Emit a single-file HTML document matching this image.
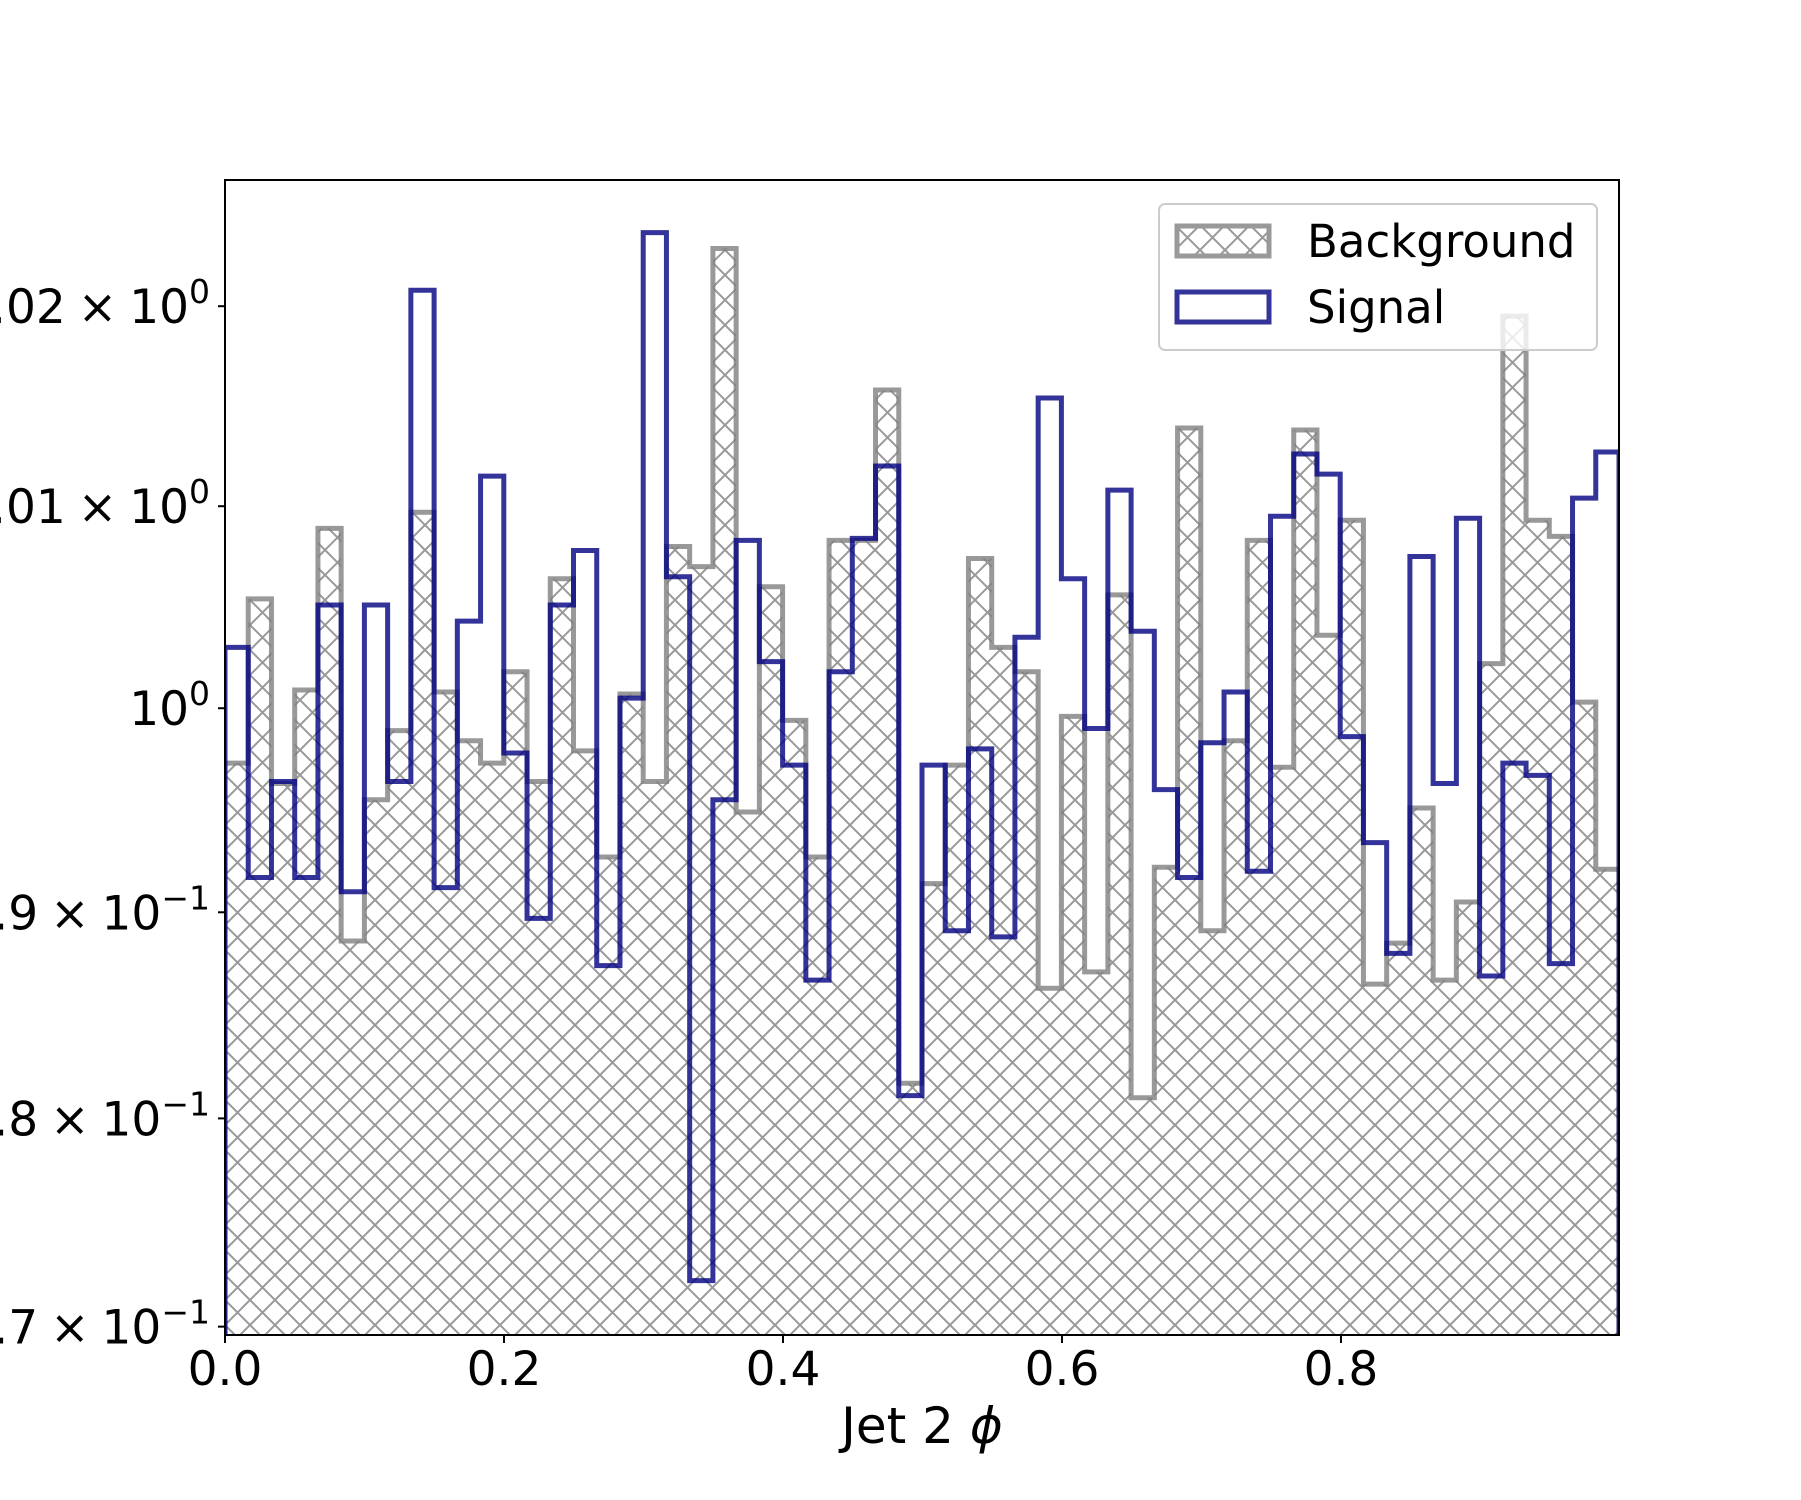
<!DOCTYPE html>
<html><head><meta charset="utf-8"><style>
html,body{margin:0;padding:0;background:#fff;}
svg{display:block;font-family:"DejaVu Sans","Liberation Sans",sans-serif;}
</style></head><body>
<svg id="chart" width="1801" height="1500" viewBox="0 0 1801 1500" xmlns="http://www.w3.org/2000/svg">
<defs>
<pattern id="hatch" patternUnits="userSpaceOnUse" width="25" height="25">
<path d="M0,0 L25,25 M0,25 L25,0 M-5,5 L5,-5 M20,30 L30,20" stroke="#999999" stroke-width="2" fill="none"/>
</pattern>
<clipPath id="plotclip"><rect x="225" y="180" width="1394" height="1155"/></clipPath>
</defs>
<g id="plot" clip-path="url(#plotclip)"></g>
<g id="axes"></g>
</svg>
<script>
const background = [0.9973,1.0054,0.9963,1.0009,1.0089,0.9886,0.9955,0.9989,1.0097,1.0008,
0.9984,0.9973,1.0018,0.9964,1.0064,0.9979,0.9927,1.0007,0.9964,1.0080,
1.0070,1.0229,0.9949,1.0060,0.9994,0.9927,1.0083,1.0083,1.0158,0.9817,
0.9914,0.9972,1.0074,1.0030,1.0018,0.9863,0.9996,0.9871,1.0056,0.9810,
0.9922,1.0139,0.9891,0.9984,1.0083,0.9971,1.0138,1.0036,1.0093,0.9865,
0.9885,0.9951,0.9867,0.9905,1.0022,1.0195,1.0093,1.0085,1.0003,0.9921];
const signal = [1.0030,0.9917,0.9964,0.9917,1.0051,0.9910,1.0051,0.9964,1.0208,0.9912,
1.0043,1.0115,0.9978,0.9897,1.0051,1.0078,0.9874,1.0005,1.0237,1.0065,
0.9722,0.9955,1.0083,1.0023,0.9972,0.9867,1.0018,1.0084,1.0120,0.9811,
0.9972,0.9891,0.9980,0.9888,1.0035,1.0154,1.0064,0.9990,1.0108,1.0038,
0.9960,0.9917,0.9983,1.0008,0.9920,1.0095,1.0126,1.0116,0.9986,0.9934,
0.9880,1.0075,0.9963,1.0094,0.9869,0.9973,0.9967,0.9875,1.0104,1.0127];
const xTicks = [0.0,0.2,0.4,0.6,0.8];
const xTickLabels = ["0.0","0.2","0.4","0.6","0.8"];
const yTicks = [0.97,0.98,0.99,1.00,1.01,1.02];
const yTickMant = ["9.7","9.8","9.9","","1.01","1.02"];
const yTickExp = ["\u22121","\u22121","\u22121","0","0","0"];
const xMin = 0, xMax = 0.9993;

const L=225,R=1619,T=180,B=1335;
const yMinV=0.9696, yMaxV=1.02636;
function xs(v){return L+(v-xMin)/(xMax-xMin)*(R-L);}
function ys(v){return B-(Math.log(v)-Math.log(yMinV))/(Math.log(yMaxV)-Math.log(yMinV))*(B-T);}
const NS="http://www.w3.org/2000/svg";
function mk(tag,attrs,parent){const e=document.createElementNS(NS,tag);for(const k in attrs)e.setAttribute(k,attrs[k]);parent.appendChild(e);return e;}
const plot=document.getElementById('plot'), axes=document.getElementById('axes');
function stepPath(vals){
  const n=vals.length, w=(xMax-xMin)/n, base=B+50;
  let d='M'+xs(xMin)+','+base;
  for(let i=0;i<n;i++){const y=ys(vals[i]);d+=' L'+xs(xMin+i*w)+','+y+' L'+xs(xMin+(i+1)*w)+','+y;}
  d+=' L'+xs(xMax)+','+base;
  return d;
}
const bgFill=mk('path',{d:stepPath(background)+' Z',fill:'url(#hatch)',stroke:'none'},plot);


const bgLine=mk('path',{d:stepPath(background),fill:'none',stroke:'#808080','stroke-opacity':0.8,'stroke-width':5,'stroke-linejoin':'miter'},plot);


const sgLine=mk('path',{d:stepPath(signal),fill:'none',stroke:'#000080','stroke-opacity':0.8,'stroke-width':5,'stroke-linejoin':'miter'},plot);



const frame=mk('rect',{x:L,y:T,width:R-L,height:B-T,fill:'none',stroke:'#000','stroke-width':2},axes);


xTicks.forEach((v,i)=>{
  const x=xs(v);
  const t=mk('line',{x1:x,y1:B,x2:x,y2:B+8,stroke:'#000','stroke-width':2},axes);
  
  
  const tx=mk('text',{x:x,y:1385,'font-size':47,'text-anchor':'middle',fill:'#000'},axes);
  tx.textContent=xTickLabels[i];
  
  
});
yTicks.forEach((v,i)=>{
  const y=ys(v);
  const t=mk('line',{x1:L-7,y1:y,x2:L,y2:y,stroke:'#000','stroke-width':2},axes);
  
  
  const tx=mk('text',{x:210,y:y+17,'font-size':47,'text-anchor':'end',fill:'#000'},axes);
  
  
  if(yTickMant[i]){
    const a=mk('tspan',{},tx); a.textContent=yTickMant[i];
    const b=mk('tspan',{dx:12},tx); b.textContent='\u00d7';
    const c=mk('tspan',{dx:12},tx); c.textContent='10';
  } else {
    const c=mk('tspan',{},tx); c.textContent='10';
  }
  const s2=mk('tspan',{dy:-20,'font-size':33},tx); s2.textContent=yTickExp[i];
});
const xl=mk('text',{x:922,y:1443,'font-size':50,'text-anchor':'middle',fill:'#000'},axes);


xl.innerHTML='Jet 2 <tspan font-style="italic">\u03d5</tspan>';

const lg=mk('g',{},axes);


mk('rect',{x:1159,y:204,width:438,height:146,rx:6,fill:'#fff','fill-opacity':0.8,stroke:'#cccccc','stroke-width':2},lg);
const h1=mk('rect',{x:1177,y:226,width:92,height:30,fill:'url(#hatch)',stroke:'#999999','stroke-width':5},lg);


const t1=mk('text',{x:1307,y:257,'font-size':45,fill:'#000'},lg);t1.textContent='Background';


const h2=mk('rect',{x:1177,y:292,width:92,height:30,fill:'none',stroke:'#333399','stroke-width':5},lg);


const t2=mk('text',{x:1307,y:323,'font-size':45,fill:'#000'},lg);t2.textContent='Signal';


</script>
</body></html>
